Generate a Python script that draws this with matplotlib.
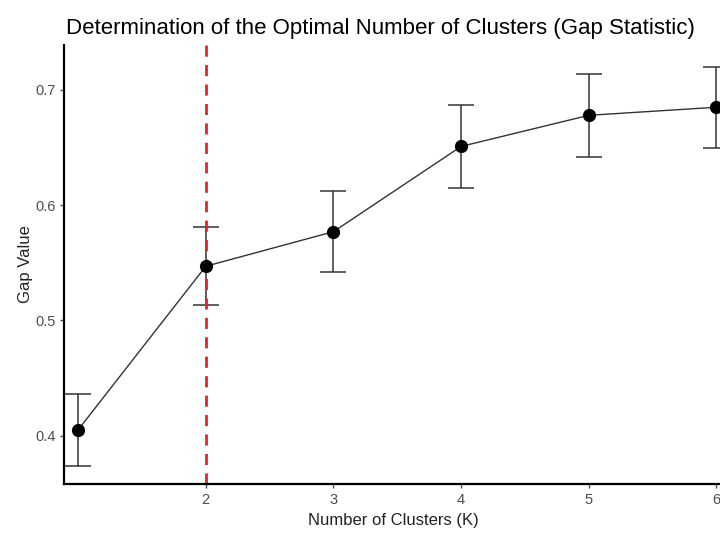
import matplotlib
matplotlib.use("Agg")
import matplotlib.pyplot as plt

# gap statistic per number of clusters
k_values = [1, 2, 3, 4, 5, 6]
gap_values = [0.405, 0.547, 0.577, 0.651, 0.678, 0.685]
gap_se = [0.031, 0.034, 0.035, 0.036, 0.036, 0.035]
optimal_k = 2
x_ticks = [2, 3, 4, 5, 6]
y_ticks = [0.4, 0.5, 0.6, 0.7]

plt.rcParams['font.family'] = ['Liberation Sans', 'DejaVu Sans']

fig = plt.figure(figsize=(7.2, 5.36), dpi=100)
ax = fig.add_axes([0.089, 0.097, 0.915, 0.819])

ax.errorbar(k_values, gap_values, yerr=gap_se, fmt='none', ecolor='#333333',
            elinewidth=1.1, capsize=9.5, capthick=1.1, zorder=2)
ax.axvline(optimal_k, color='#e8202a', linestyle=(0, (4, 3)), linewidth=2, zorder=2.5)
ax.plot(k_values, gap_values, color='#333333', linewidth=1.0, zorder=3)
ax.plot(k_values, gap_values, 'o', color='black', markersize=8.5, zorder=4)

ax.set_xlim(0.89, 6.05)
ax.set_ylim(0.358, 0.739)
ax.set_xticks(x_ticks)
ax.set_yticks(y_ticks)
ax.set_yticklabels([str(v) for v in y_ticks])

for side in ['top', 'right']:
    ax.spines[side].set_visible(False)
for side in ['left', 'bottom']:
    ax.spines[side].set_linewidth(1.6)
    ax.spines[side].set_color('black')
ax.tick_params(axis='both', colors='#4d4d4d', labelsize=10.5, length=3, width=1)
ax.tick_params(axis='y', pad=3)

ax.set_xlabel('Number of Clusters (K)', fontsize=12, color='#222222', labelpad=4)
ax.set_ylabel('Gap Value', fontsize=12, color='#222222', labelpad=2)
fig.text(0.528, 0.946, 'Determination of the Optimal Number of Clusters (Gap Statistic)',
         ha='center', va='center', fontsize=16, color='black')

fig.savefig('out.png', dpi=100, facecolor='white')
